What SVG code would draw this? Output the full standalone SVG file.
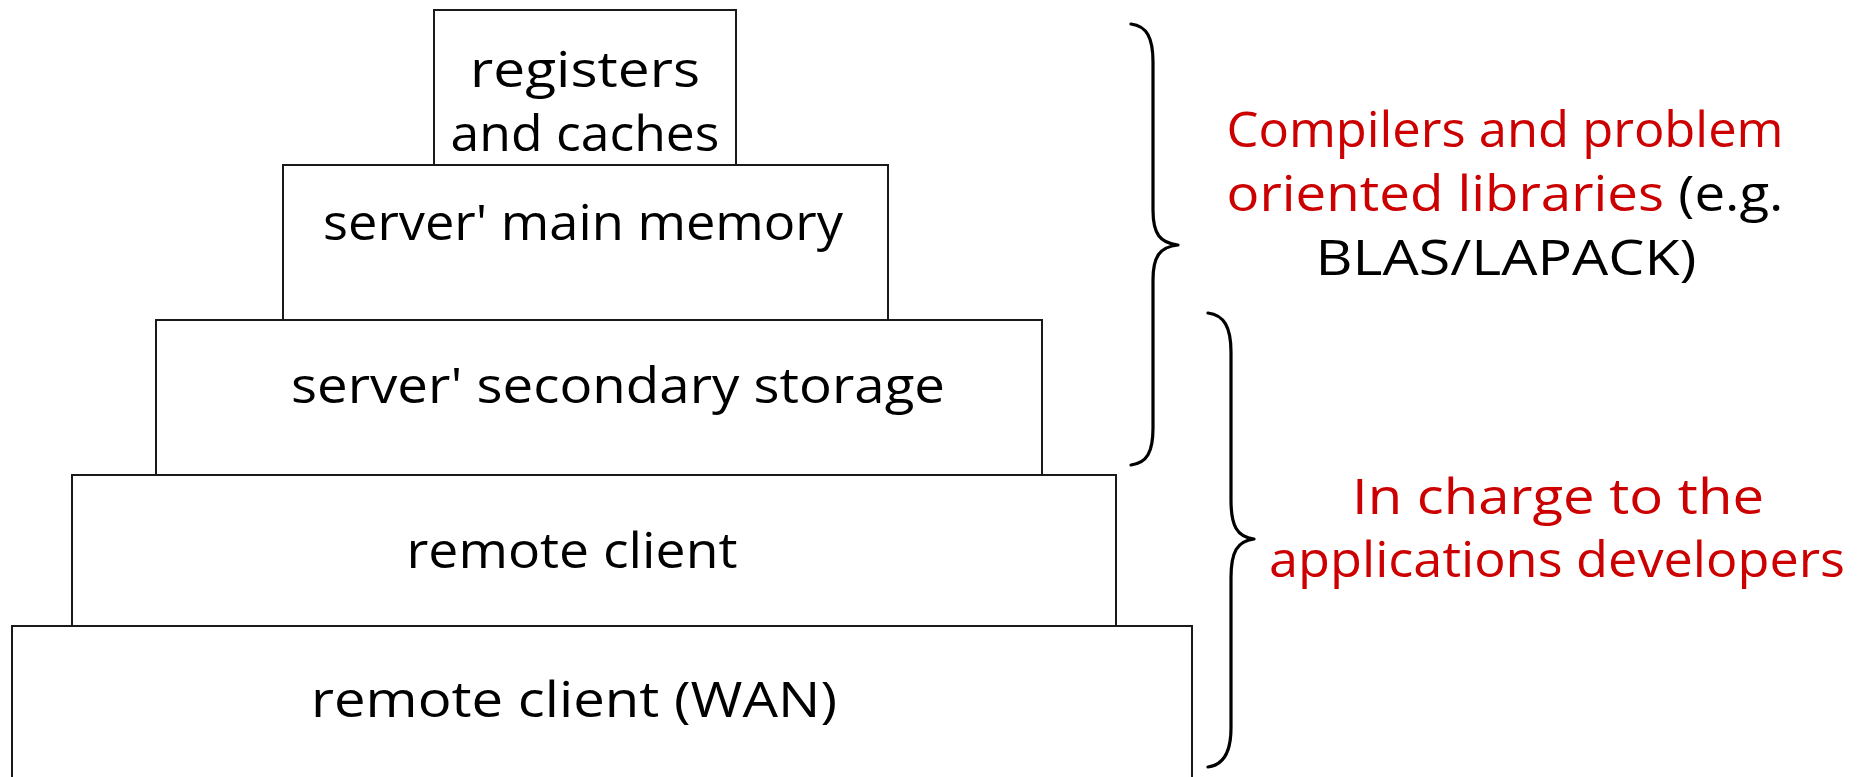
<svg xmlns="http://www.w3.org/2000/svg" width="1858" height="777" viewBox="0 0 1858 777">
  <style>
    .box { fill: #ffffff; stroke: #1a1a1a; stroke-width: 2; }
    .lbl { font-family: "Open Sans", "Liberation Sans", sans-serif; font-size: 50px; fill: #000000; text-anchor: middle; }
    .red { fill: #cc0000; }
    .brace { fill: none; stroke: #000000; stroke-width: 3.2; stroke-linecap: round; stroke-linejoin: round; }
  </style>
  <rect width="1858" height="777" fill="#ffffff"/>

  <!-- memory hierarchy pyramid, bottom tier first -->
  <g id="tier-wan">
    <rect class="box" x="12" y="626" width="1180" height="170"/>
    <text class="lbl" x="574" y="717" textLength="526" lengthAdjust="spacingAndGlyphs">remote client (WAN)</text>
  </g>
  <g id="tier-remote">
    <rect class="box" x="72" y="475" width="1044" height="151"/>
    <text class="lbl" x="572" y="568" textLength="331" lengthAdjust="spacingAndGlyphs">remote client</text>
  </g>
  <g id="tier-secondary">
    <rect class="box" x="156" y="320" width="886" height="155"/>
    <text class="lbl" x="618" y="403" textLength="654" lengthAdjust="spacingAndGlyphs">server' secondary storage</text>
  </g>
  <g id="tier-main">
    <rect class="box" x="283" y="165" width="605" height="155"/>
    <text class="lbl" x="583" y="240" textLength="520" lengthAdjust="spacingAndGlyphs">server' main memory</text>
  </g>
  <g id="tier-registers">
    <rect class="box" x="434" y="10" width="302" height="155"/>
    <text class="lbl" x="585" y="87" textLength="230" lengthAdjust="spacingAndGlyphs">registers</text>
    <text class="lbl" x="585" y="151" textLength="269" lengthAdjust="spacingAndGlyphs">and caches</text>
  </g>

  <!-- curly braces grouping the tiers -->
  <g id="connectors">
    <path class="brace" d="M1131,24 C1147,26 1153,38 1153,62 L1153,210 C1153,234 1160,243 1178,245 C1160,247 1153,256 1153,280 L1153,428 C1153,452 1147,463 1131,465"/>
    <path class="brace" d="M1208,313 C1224,315 1231,327 1231,352 L1231,500 C1231,526 1237,537 1254,539 C1237,541 1231,552 1231,578 L1231,728 C1231,752 1224,765 1208,767"/>
  </g>

  <g id="note-compilers">
    <text class="lbl red" x="1505" y="147" textLength="557" lengthAdjust="spacingAndGlyphs">Compilers and problem</text>
    <text class="lbl" x="1505" y="211" textLength="557" lengthAdjust="spacingAndGlyphs"><tspan class="red">oriented libraries</tspan> (e.g.</text>
    <text class="lbl" x="1506" y="275" textLength="381" lengthAdjust="spacingAndGlyphs">BLAS/LAPACK)</text>
  </g>

  <g id="note-developers">
    <text class="lbl red" x="1558" y="514" textLength="412" lengthAdjust="spacingAndGlyphs">In charge to the</text>
    <text class="lbl red" x="1557" y="577" textLength="576" lengthAdjust="spacingAndGlyphs">applications developers</text>
  </g>
</svg>
